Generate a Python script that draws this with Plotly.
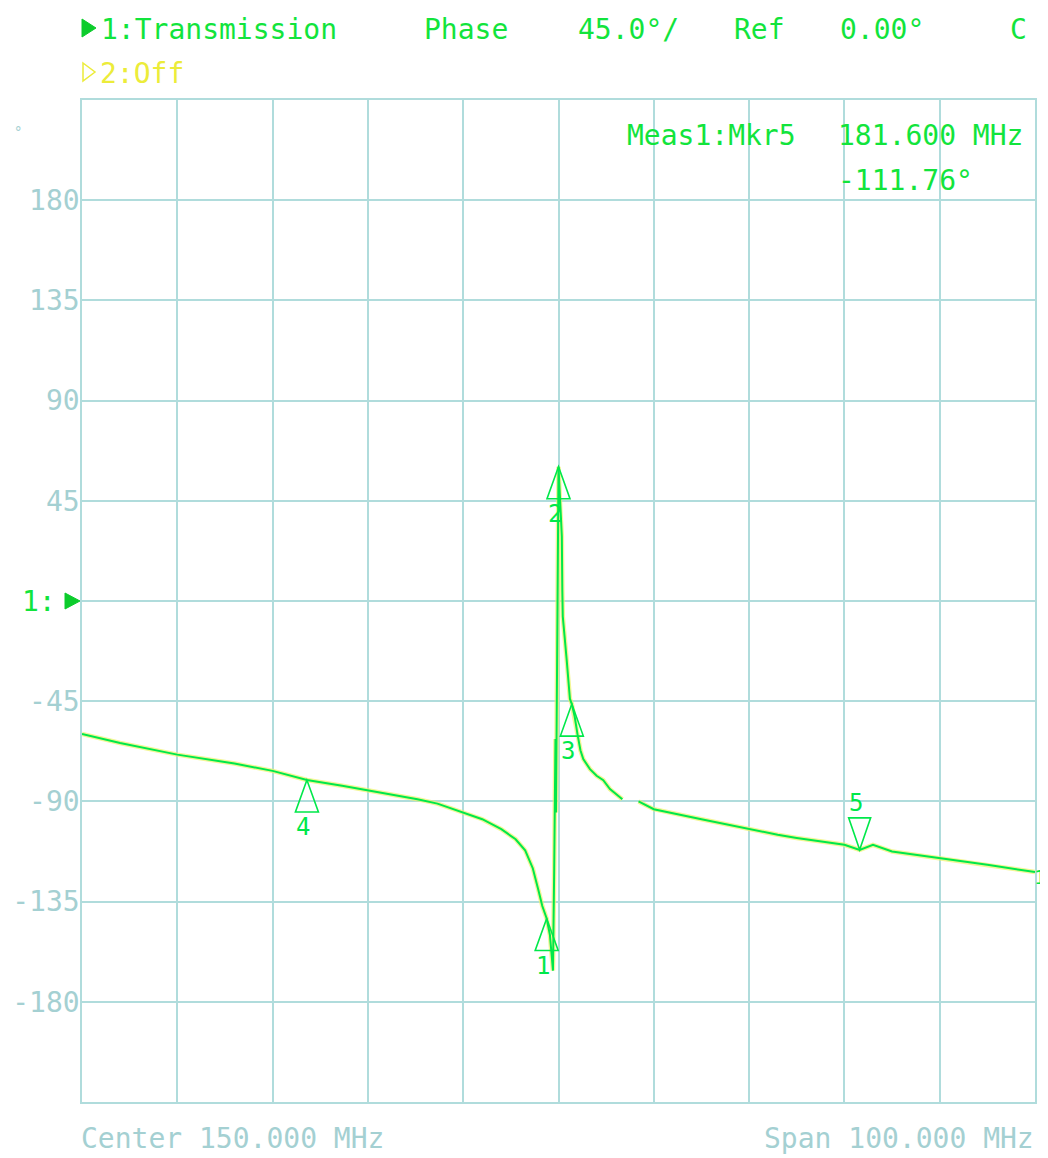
import plotly.graph_objects as go

freq_mhz = [100.0, 104.0, 110.0, 116.0, 120.0, 123.6, 127.3, 130.0, 135.2, 137.3,
            140.0, 142.0, 144.0, 145.5, 146.5, 147.3, 147.9, 148.3, 148.76, 149.1,
            149.3, 149.42, 149.55, 149.68, 149.74, 149.84, 149.95, 150.0, 150.2, 150.35,
            150.4, 150.45, 150.85, 151.2, 151.4, 151.7, 152.0, 152.3, 152.6, 153.3,
            154.0, 154.7, 155.4, 156.7, None, 158.4, 160.0, 165.0, 170.0, 173.0,
            175.0, 180.0, 181.6, 183.0, 185.0, 190.0, 195.0, 200.0]
phase_deg = [-59.7, -63.8, -69.0, -73.0, -76.3, -80.4, -83.0, -85.0, -89.0, -91.0,
             -95.0, -98.0, -102.5, -107.0, -112.0, -120.0, -130.0, -137.0, -142.6, -150.0,
             -160.0, -166.0, -120.0, -62.0, -95.0, 0.0, 30.0, 60.3, 40.0, 29.0,
             5.0, -7.0, -26.0, -44.0, -46.3, -52.0, -60.0, -67.0, -71.0, -75.5,
             -78.5, -80.5, -84.5, -89.0, None, -90.0, -93.5, -98.0, -102.5, -105.0,
             -106.4, -109.5, -111.76, -109.5, -112.5, -115.4, -118.5, -121.7]

marker_ids = ["1", "2", "3", "4", "5"]
marker_freq = [148.76, 150.0, 151.4, 123.6, 181.6]
marker_phase = [-142.6, 60.3, -46.3, -80.4, -111.76]
marker_dir = ["up", "up", "up", "up", "down"]

y_tick_vals = [-180, -135, -90, -45, 0, 45, 90, 135, 180]
y_tick_text = ["-180", "-135", "-90", "-45", "", "45", "90", "135", "180"]

header_texts = ["1:Transmission", "Phase", "45.0°/", "Ref", "0.00°", "C"]
header_x_px = [99, 422, 576, 732, 838, 1008]
channel2_text = "2:Off"
meas_texts = ["Meas1:Mkr5", "181.600 MHz", "-111.76°"]
center_text = "Center 150.000 MHz"
span_text = "Span 100.000 MHz"

# ---------------- style ----------------
# page body has an 8px margin, so the figure is sized/offset to put the
# plot area at x 82..1035, y 100..1102 of the window
OFF = 8
W, H = 1040, 1150
L, R, T, B = 74, 13, 92, 56
PW, PH = W - L - R, H - T - B
X0, Y1 = OFF + L, OFF + H - B   # page coords of plot-area left / bottom
GREEN = "#12e43c"
TRACE = "#00e84a"
HALO = "#eef36a"
YELLOW = "#ecec3a"
GRID = "#b0dcdc"
LABEL = "#a4d0d2"
FONT = "DejaVu Sans Mono"
FS = 28


def px(x):
    return (x - X0) / PW


def py(y):
    return (Y1 - y) / PH


fig = go.Figure()
fig.add_trace(go.Scatter(x=freq_mhz, y=phase_deg, mode="lines",
                         line=dict(color=HALO, width=4.5), opacity=0.7,
                         hoverinfo="skip", showlegend=False, connectgaps=False))
fig.add_trace(go.Scatter(x=freq_mhz, y=phase_deg, mode="lines",
                         line=dict(color=TRACE, width=2),
                         showlegend=False, connectgaps=False))

shapes = []
annotations = []

# marker triangles + numbers
for mid, f, p, d in zip(marker_ids, marker_freq, marker_phase, marker_dir):
    if d == "up":
        path = "M0,0 L-11.5,-32 L11.5,-32 Z"
        yshift = -47
    else:
        path = "M0,0 L-11,32 L11,32 Z"
        yshift = 47
    shapes.append(dict(type="path", xref="x", yref="y", xsizemode="pixel",
                       ysizemode="pixel", xanchor=f, yanchor=p, path=path,
                       line=dict(color=TRACE, width=1.6), fillcolor="rgba(0,0,0,0)"))
    annotations.append(dict(x=f, y=p, xref="x", yref="y", text=mid, showarrow=False,
                            xshift=-4, yshift=yshift,
                            font=dict(family=FONT, size=24, color=TRACE)))

# header indicator triangles
shapes.append(dict(type="path", xref="paper", yref="paper", xsizemode="pixel",
                   ysizemode="pixel", xanchor=0, yanchor=1,
                   path="M0,81 L14,72 L0,63 Z", line=dict(color="#0ccc2c", width=1),
                   fillcolor="#0ccc2c"))
shapes.append(dict(type="path", xref="paper", yref="paper", xsizemode="pixel",
                   ysizemode="pixel", xanchor=0, yanchor=1,
                   path="M1,37 L13,28 L1,19 Z", line=dict(color=YELLOW, width=1.5),
                   fillcolor="rgba(0,0,0,0)"))
# reference-level arrow at 0 deg
shapes.append(dict(type="path", xref="paper", yref="y", xsizemode="pixel",
                   ysizemode="pixel", xanchor=0, yanchor=0,
                   path="M-17,8 L-2,0 L-17,-8 Z", line=dict(color="#0ccc2c", width=1),
                   fillcolor="#0ccc2c"))

for t, x in zip(header_texts, header_x_px):
    annotations.append(dict(x=px(x), y=py(30), xref="paper", yref="paper", text=t,
                            showarrow=False, xanchor="left", yanchor="middle",
                            font=dict(family=FONT, size=FS, color=GREEN)))
annotations.append(dict(x=px(98), y=py(74), xref="paper", yref="paper", text=channel2_text,
                        showarrow=False, xanchor="left", yanchor="middle",
                        font=dict(family=FONT, size=FS, color=YELLOW)))
for t, x, y in zip(meas_texts, [625, 836, 836], [135, 135, 180]):
    annotations.append(dict(x=px(x), y=py(y), xref="paper", yref="paper", text=t,
                            showarrow=False, xanchor="left", yanchor="middle",
                            font=dict(family=FONT, size=FS, color=GREEN)))
annotations.append(dict(x=px(79), y=py(1138), xref="paper", yref="paper", text=center_text,
                        showarrow=False, xanchor="left", yanchor="middle",
                        font=dict(family=FONT, size=FS, color=LABEL)))
annotations.append(dict(x=px(1036), y=py(1138), xref="paper", yref="paper", text=span_text,
                        showarrow=False, xanchor="right", yanchor="middle",
                        font=dict(family=FONT, size=FS, color=LABEL)))
annotations.append(dict(x=px(58), y=0, xref="paper", yref="y", text="1:",
                        showarrow=False, xanchor="right", yanchor="middle",
                        font=dict(family=FONT, size=FS, color=GREEN)))
annotations.append(dict(x=px(12), y=py(132), xref="paper", yref="paper", text="°",
                        showarrow=False, xanchor="left", yanchor="middle",
                        font=dict(family=FONT, size=14, color=LABEL)))
annotations.append(dict(x=px(1048), y=phase_deg[-1], xref="paper", yref="y", text="1",
                        showarrow=False, xanchor="right", yanchor="middle", yshift=-5,
                        font=dict(family=FONT, size=20, color=TRACE)))

fig.update_layout(
    width=W, height=H,
    margin=dict(l=L, r=R, t=T, b=B, pad=0, autoexpand=False),
    paper_bgcolor="white", plot_bgcolor="white",
    shapes=shapes, annotations=annotations,
    showlegend=False,
    xaxis=dict(range=[100, 200], dtick=10, tick0=100, showticklabels=False,
               showgrid=True, gridcolor=GRID, gridwidth=1.5, zeroline=False,
               showline=True, linecolor=GRID, linewidth=1.5, mirror=True, ticks="",
               automargin=False),
    yaxis=dict(range=[-225, 225], tickvals=y_tick_vals, ticktext=y_tick_text,
               showgrid=True, gridcolor=GRID, gridwidth=1.5, zeroline=False,
               showline=True, linecolor=GRID, linewidth=1.5, mirror=True, ticks="",
               tickfont=dict(family=FONT, size=FS, color=LABEL), ticklabelstandoff=-5,
               automargin=False),
)

fig.write_html("out.html")
